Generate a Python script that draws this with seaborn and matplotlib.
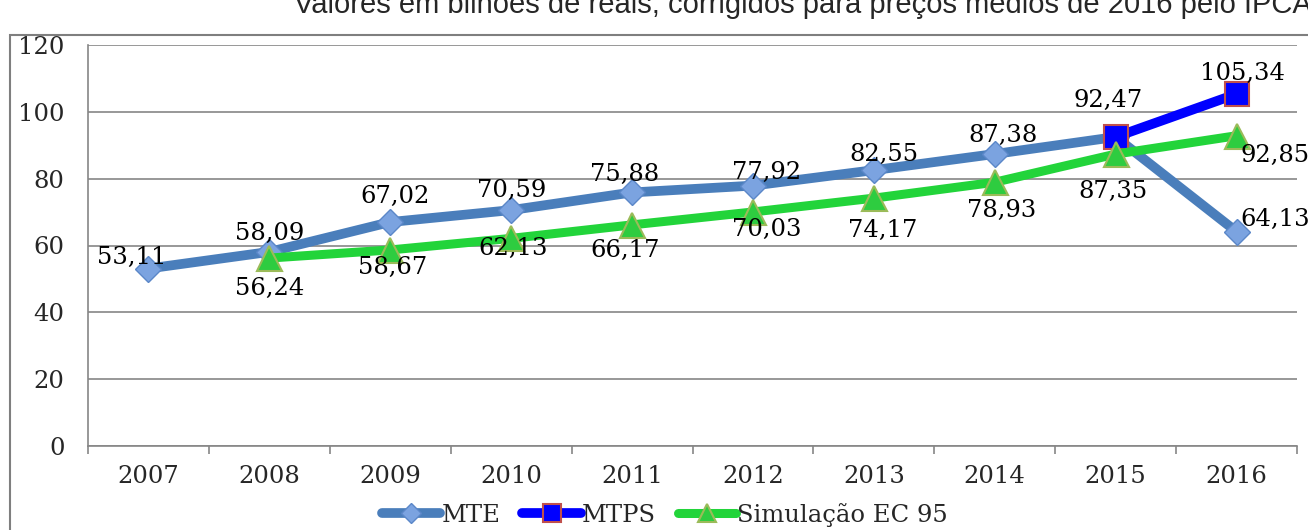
import numpy as np
import pandas as pd
import matplotlib
matplotlib.use("Agg")
import matplotlib.pyplot as plt
import seaborn as sns
from matplotlib.patches import Rectangle

anos = [2007, 2008, 2009, 2010, 2011, 2012, 2013, 2014, 2015, 2016]
mte = [53.11, 58.09, 67.02, 70.59, 75.88, 77.92, 82.55, 87.38, 92.47, 64.13]
mtps_anos = [2015, 2016]
mtps = [92.47, 105.34]
sim_anos = [2008, 2009, 2010, 2011, 2012, 2013, 2014, 2015, 2016]
sim = [56.24, 58.67, 62.13, 66.17, 70.03, 74.17, 78.93, 87.35, 92.85]

titulo = "Valores em bilhões de reais, corrigidos para preços médios de 2016 pelo IPCA"

df_mte = pd.DataFrame({"ano": anos, "valor": mte})
df_mtps = pd.DataFrame({"ano": mtps_anos, "valor": mtps})
df_sim = pd.DataFrame({"ano": sim_anos, "valor": sim})

sns.set_style("white")
plt.rcParams["font.family"] = ["DejaVu Serif"]

fig = plt.figure(figsize=(13.08, 5.30), dpi=100)
ax = fig.add_axes([88 / 1308, 1 - 446 / 530, (1297 - 88) / 1308, (446 - 45) / 530])

grid = "#868686"
fs = 17.5

sns.lineplot(data=df_mte, x="ano", y="valor", ax=ax, color="#4A7EBB", lw=7,
             marker="D", markersize=13, markerfacecolor="#7BA3E0",
             markeredgecolor="#5B87C8", markeredgewidth=1, label="MTE", zorder=3)
sns.lineplot(data=df_mtps, x="ano", y="valor", ax=ax, color="#0000FF", lw=7,
             marker="s", markersize=17, markerfacecolor="#0000FF",
             markeredgecolor="#C0504D", markeredgewidth=1.5, label="MTPS", zorder=4)
sns.lineplot(data=df_sim, x="ano", y="valor", ax=ax, color="#22D43A", lw=6.5,
             marker="^", markersize=18, markerfacecolor="#2ECC40",
             markeredgecolor="#9BBB59", markeredgewidth=1.5,
             label="Simulação EC 95", zorder=5)

def rotulo(v):
    return f"{v:.2f}".replace(".", ",")

# deslocamento dos rótulos em pixels (dx, dy para cima)
off_mte = [(-17, 11), (0, 18), (5, 26), (0, 20), (-7, 18), (14, 13), (10, 16), (8, 19), None, (39, 12)]
off_mtps = [(-8, 37), (6, 21)]
off_sim = [(0, -30), (2, -18), (2, -10), (-7, -26), (14, -17), (9, -32), (7, -28), (-3, -37), (39, -20)]

k = 72 / 100
for xs, ys, offs in [(anos, mte, off_mte), (mtps_anos, mtps, off_mtps), (sim_anos, sim, off_sim)]:
    for x, y, o in zip(xs, ys, offs):
        if o is None:
            continue
        ax.annotate(rotulo(y), (x, y), xytext=(o[0] * k, o[1] * k),
                    textcoords="offset points", ha="center", va="center",
                    fontsize=fs, color="black", zorder=6)

ax.set_xlim(2006.5, 2016.5)
ax.set_ylim(0, 120)
ax.set_yticks(range(0, 121, 20))
ax.set_xticks(anos)
ax.set_xticks(np.arange(2006.5, 2016.6, 1), minor=True)
ax.set_xlabel("")
ax.set_ylabel("")
ax.yaxis.grid(True, color=grid, lw=1.2)
ax.set_axisbelow(True)
for s in ["top", "right"]:
    ax.spines[s].set_visible(False)
for s in ["left", "bottom"]:
    ax.spines[s].set_color(grid)
    ax.spines[s].set_linewidth(1.2)
ax.tick_params(axis="y", which="major", length=7, color=grid, width=1.2, labelsize=fs, pad=10)
ax.tick_params(axis="x", which="major", length=0, labelsize=fs, pad=14)
ax.tick_params(axis="x", which="minor", length=6, color=grid, width=1.2, bottom=True)

ax.get_legend().remove()
h, l = ax.get_legend_handles_labels()
fig.legend(h, l, loc="center", bbox_to_anchor=(665 / 1308, 1 - 515 / 530), ncol=3,
           frameon=False, fontsize=fs, handlelength=2.4, handletextpad=0.05,
           columnspacing=0.9, markerscale=0.75)

fig.patches.append(Rectangle((10 / 1308, -0.1), 1.2, 0.1 + 1 - 35 / 530,
                             transform=fig.transFigure, fill=False,
                             edgecolor="#7F7F7F", lw=1.5))

fig.text(1.003, 1 - 13 / 530, titulo, ha="right", va="baseline", fontsize=21,
         family=["Liberation Sans Narrow", "Liberation Sans", "DejaVu Sans"])

fig.savefig("out.png", dpi=100)
